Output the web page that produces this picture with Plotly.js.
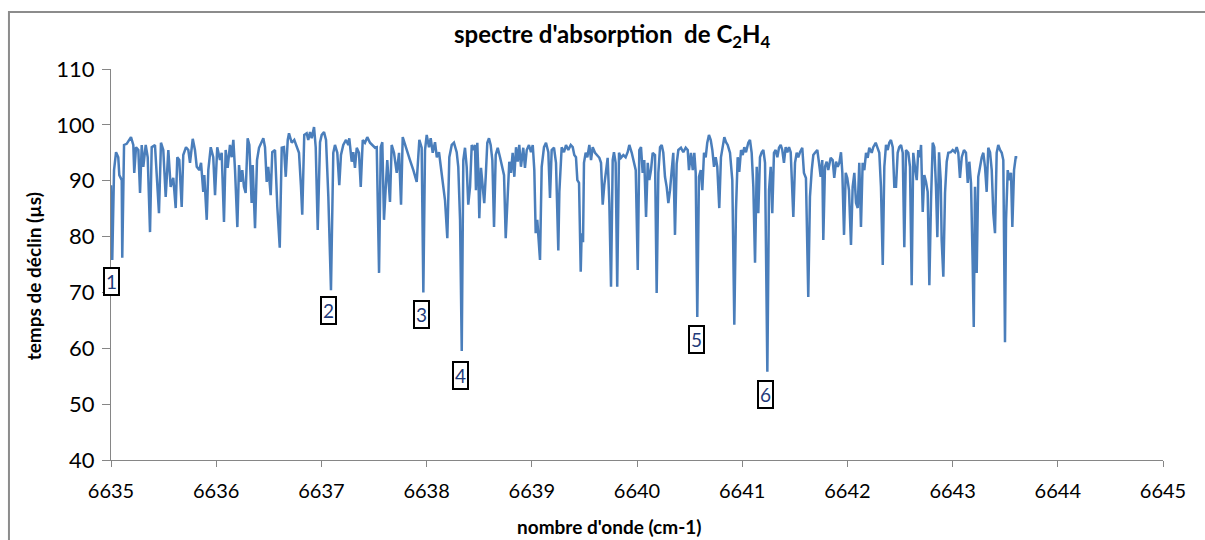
<!DOCTYPE html>
<html>
<head>
<meta charset="utf-8">
<script src="https://cdn.plot.ly/plotly-3.0.1.min.js"></script>
<style>
html,body{margin:0;padding:0;background:#fff;}
#chart{width:1205px;height:540px;}
</style>
</head>
<body>
<div id="chart"></div>
<script>
// wavenumber (cm-1)
const wavenumber = [
6635.000,6635.012,6635.029,6635.048,6635.069,6635.079,6635.102,6635.107,6635.124,6635.149,
6635.190,6635.212,6635.221,6635.238,6635.260,6635.276,6635.292,6635.307,6635.330,6635.349,
6635.371,6635.387,6635.418,6635.434,6635.456,6635.475,6635.497,6635.520,6635.545,6635.567,
6635.592,6635.615,6635.630,6635.649,6635.672,6635.687,6635.713,6635.735,6635.751,6635.777,
6635.798,6635.815,6635.839,6635.856,6635.877,6635.887,6635.910,6635.925,6635.948,6635.972,
6635.989,6636.010,
6636.036,6636.052,6636.074,6636.090,6636.109,6636.131,6636.147,6636.163,6636.179,6636.201,
6636.217,6636.233,6636.248,6636.264,6636.280,6636.299,6636.315,6636.337,6636.347,6636.369,
6636.388,6636.407,6636.426,6636.448,6636.464,6636.480,6636.495,6636.518,6636.533,6636.559,
6636.581,6636.604,6636.623,6636.644,6636.661,6636.680,6636.692,6636.718,6636.742,6636.765,
6636.787,6636.806,6636.818,6636.837,6636.860,6636.875,6636.892,6636.908,6636.930,6636.946,
6636.965,6636.987,6637.003,6637.025,6637.044,6637.066,6637.091,6637.113,
6637.129,6637.151,6637.170,6637.186,6637.208,6637.234,6637.256,6637.265,6637.288,6637.303,
6637.319,6637.336,6637.357,6637.374,6637.393,6637.414,6637.436,6637.462,6637.488,6637.510,
6637.526,6637.548,6637.564,6637.579,6637.595,6637.611,6637.626,6637.652,6637.668,6637.690,
6637.716,6637.738,6637.757,6637.773,6637.795,6637.817,6637.842,6637.874,6637.906,6637.931,
6637.953,6637.969,6637.985,6638.001,6638.023,6638.039,6638.058,6638.080,6638.097,6638.118,
6638.137,6638.159,6638.175,6638.197,6638.216,
6638.239,6638.260,6638.286,6638.301,6638.318,6638.334,6638.349,6638.365,6638.381,6638.396,
6638.413,6638.429,6638.444,6638.460,6638.469,6638.482,6638.491,6638.501,6638.517,6638.533,
6638.548,6638.562,6638.577,6638.593,6638.609,6638.625,6638.641,6638.657,6638.676,6638.698,
6638.720,6638.736,6638.752,6638.771,6638.786,6638.802,6638.818,6638.834,6638.850,6638.866,
6638.881,6638.897,6638.919,6638.935,6638.952,6638.973,6638.992,6639.009,6639.024,6639.037,
6639.052,6639.078,6639.094,6639.116,6639.135,6639.157,6639.173,6639.189,6639.211,6639.230,
6639.252,6639.262,
6639.284,6639.306,6639.325,6639.347,6639.370,6639.389,6639.404,6639.420,6639.433,6639.449,
6639.465,6639.474,6639.487,6639.496,6639.512,6639.528,6639.547,6639.563,6639.579,6639.601,
6639.623,6639.642,6639.658,6639.674,6639.689,6639.705,6639.721,6639.737,6639.753,6639.769,
6639.781,6639.797,6639.812,6639.829,6639.848,6639.870,6639.892,6639.911,6639.927,6639.950,
6639.971,6639.988,6640.007,6640.022,6640.038,6640.054,6640.069,6640.086,6640.102,6640.117,
6640.133,6640.149,6640.171,6640.187,6640.203,6640.219,6640.235,6640.250,6640.266,6640.282,
6640.298,6640.314,6640.330,6640.345,6640.361,6640.377,6640.393,
6640.418,6640.440,6640.463,6640.482,6640.494,6640.513,6640.530,6640.545,6640.558,6640.573,
6640.589,6640.606,6640.621,6640.637,6640.653,6640.668,6640.684,6640.701,6640.716,6640.732,
6640.748,6640.763,6640.782,6640.798,6640.815,6640.830,6640.846,6640.862,6640.884,6640.906,
6640.925,6640.941,6640.957,6640.972,6640.989,6641.005,6641.020,6641.036,6641.058,6641.074,
6641.090,6641.106,6641.122,6641.138,6641.153,6641.169,6641.185,6641.201,6641.217,6641.239,
6641.255,6641.271,6641.286,6641.302,6641.318,6641.334,6641.350,6641.366,6641.381,6641.397,
6641.413,6641.429,6641.445,6641.461,
6641.486,6641.502,6641.518,6641.533,6641.549,6641.571,6641.587,6641.606,6641.628,6641.644,
6641.661,6641.676,6641.692,6641.714,6641.730,6641.746,6641.761,6641.771,6641.787,6641.803,
6641.818,6641.841,6641.860,6641.875,6641.892,6641.908,6641.923,6641.939,6641.952,6641.968,
6641.984,6641.999,6642.015,6642.034,6642.050,6642.066,6642.082,6642.098,6642.113,6642.129,
6642.145,6642.161,6642.177,6642.193,6642.208,6642.231,6642.246,6642.269,6642.284,6642.303,
6642.319,6642.336,6642.351,6642.367,6642.383,6642.398,6642.414,6642.431,6642.446,6642.462,
6642.478,6642.493,6642.510,6642.526,6642.541,6642.557,6642.579,
6642.595,6642.611,6642.626,6642.643,6642.659,6642.674,6642.690,6642.700,6642.716,6642.731,
6642.747,6642.763,6642.779,6642.795,6642.811,6642.826,6642.842,6642.855,6642.871,6642.887,
6642.896,6642.912,6642.928,6642.944,6642.959,6642.982,6643.001,6643.023,6643.039,6643.054,
6643.070,6643.087,6643.108,6643.127,6643.144,6643.159,6643.175,6643.191,6643.201,6643.213,
6643.229,6643.244,6643.261,6643.277,6643.292,6643.308,6643.324,6643.339,6643.356,6643.372,
6643.387,6643.403,6643.419,6643.434,6643.451,6643.467,6643.482,6643.498,6643.508,6643.524,
6643.539,6643.555,6643.568,6643.584,6643.600,6643.615
];

// decay time (µs)
const decayTime = [
89.2,75.8,91.9,95.1,94.2,91.0,90.1,76.2,96.4,96.6,
97.8,96.4,91.4,96.0,95.5,87.8,96.4,92.5,96.4,94.2,
80.8,96.0,96.4,91.9,84.2,96.8,95.5,87.1,95.5,88.9,
90.5,85.1,94.2,93.7,85.3,94.6,96.0,95.5,93.2,97.5,
95.5,92.5,91.9,93.2,88.0,91.0,83.0,91.9,96.0,94.2,
87.4,96.0,
93.7,95.0,82.6,95.5,92.3,96.4,94.2,97.3,91.9,81.7,
92.8,89.8,91.9,88.9,87.8,97.6,96.4,86.0,92.8,81.5,
93.7,95.9,96.8,97.6,96.0,89.8,92.5,87.4,95.1,95.5,
85.3,78.0,95.9,96.0,90.7,97.3,98.5,96.8,97.3,96.0,
95.0,88.9,83.9,98.2,98.5,97.3,98.7,97.6,99.6,96.0,
81.2,96.9,98.2,98.7,97.3,87.1,70.4,95.0,
96.4,95.0,89.2,94.6,96.4,97.3,96.4,97.6,93.4,95.1,
92.3,95.9,95.0,88.9,97.3,96.8,97.8,96.8,96.4,95.9,
96.0,73.5,96.0,96.9,83.0,90.1,93.7,86.2,96.4,95.0,
91.4,95.0,85.7,97.8,96.4,95.0,93.7,91.9,89.8,97.3,
95.9,70.0,95.5,98.2,96.0,97.6,95.0,96.9,94.2,95.1,
92.3,88.9,86.5,79.7,94.2,
96.4,96.8,95.1,92.5,83.0,59.5,93.7,95.9,92.5,85.7,
88.9,96.4,95.5,96.4,88.3,96.8,91.9,83.3,92.3,89.6,
86.0,90.7,96.8,97.6,96.4,93.7,81.7,94.6,95.9,94.2,
92.5,91.0,79.7,87.1,93.4,91.4,95.0,90.7,96.0,93.4,
96.4,92.5,95.9,92.3,95.5,96.4,95.1,96.4,91.9,80.6,
83.0,75.8,92.5,96.0,96.8,95.1,86.9,95.5,95.9,93.2,
77.5,88.0,
96.0,95.1,96.4,95.5,96.4,96.0,94.6,94.2,90.1,89.6,
73.7,80.6,79.0,93.2,95.0,94.2,96.4,93.7,96.0,95.0,
94.6,94.1,93.2,85.7,89.2,92.3,94.1,86.0,71.0,93.7,
95.1,93.2,71.0,95.0,94.1,94.6,94.2,95.1,96.4,95.0,
93.2,91.9,74.0,95.5,96.0,91.4,93.7,83.5,93.2,90.1,
91.9,95.0,94.6,69.9,91.4,96.0,96.4,95.0,90.7,88.9,
86.0,88.3,91.9,95.0,80.3,93.0,95.5,
95.9,95.1,95.9,95.5,91.9,95.0,91.9,95.0,91.4,65.6,
90.7,91.9,88.3,95.0,94.2,96.8,98.2,97.3,95.5,92.5,
94.2,92.5,85.1,94.2,96.0,97.8,96.9,96.4,95.0,90.1,
64.2,84.8,94.2,91.6,95.5,94.6,96.0,95.1,96.8,97.3,
95.0,88.9,75.3,92.5,84.2,94.2,95.1,95.5,93.2,55.8,
88.3,92.5,84.2,95.0,95.5,94.2,95.9,96.4,95.5,93.2,
96.0,95.1,96.0,95.1,
83.5,93.2,95.0,94.2,95.1,95.9,91.4,90.5,69.2,87.1,
91.9,94.6,95.0,95.5,93.2,90.7,93.7,79.4,92.5,93.4,
91.9,94.1,93.7,90.5,93.4,92.5,93.2,95.1,91.4,80.3,
91.4,90.5,88.3,78.5,88.9,91.4,86.0,85.1,93.2,81.7,
93.2,91.9,95.0,94.1,95.9,95.0,96.0,96.8,96.0,95.0,
88.9,74.9,92.5,96.4,95.5,96.8,97.3,96.0,88.9,88.9,
95.0,96.0,96.4,95.0,78.1,95.5,95.0,
92.5,71.3,95.0,92.3,90.1,95.5,94.2,96.4,84.4,91.0,
89.8,88.0,71.3,86.5,96.8,96.0,88.9,79.9,95.1,90.1,
79.4,72.8,87.8,93.4,95.0,95.1,95.5,95.1,96.0,95.0,
90.5,94.2,95.5,95.0,89.6,93.4,89.6,75.0,63.8,88.9,
73.5,90.7,92.5,94.2,95.0,92.5,88.0,95.9,95.1,91.9,
84.2,80.6,95.0,96.4,95.5,95.0,93.7,61.1,83.0,91.9,
90.1,91.4,81.7,91.9,94.2,94.2
];

// numbered line labels
const peakLabels = ["1","2","3","4","5","6"];
const peakLabelX = [6635.0, 6637.072, 6637.956, 6638.318, 6640.561, 6641.226];
const peakLabelY = [72.0, 66.7, 66.0, 55.2, 61.6, 51.8];

const xTickVals = [6635,6636,6637,6638,6639,6640,6641,6642,6643,6644,6645];
const yTickVals = [40,50,60,70,80,90,100,110];

const titleText = "<b>spectre d'absorption  de C<sub>2</sub>H<sub>4</sub></b>";
const xTitleText = "<b>nombre d'onde (cm-1)</b>";
const yTitleText = "<b>temps de déclin (µs)</b>";

const FONT = "Lato, 'Open Sans', sans-serif";
const AXIS_GREY = "#868686";

const trace = {
  x: wavenumber,
  y: decayTime,
  type: "scatter",
  mode: "lines",
  line: {color: "#4A7EBB", width: 2.5},
  hoverinfo: "x+y",
  showlegend: false
};

const annotations = peakLabels.map((t, i) => ({
  x: peakLabelX[i], y: peakLabelY[i], xref: "x", yref: "y",
  text: t, showarrow: false,
  font: {family: FONT, size: 19, color: "#1F3B7A"},
  bordercolor: "#000000", borderwidth: 2, borderpad: 1,
  bgcolor: "#ffffff", xanchor: "center", yanchor: "middle"
}));

annotations.push({
  x: 0.474, y: -0.171, xref: "paper", yref: "paper",
  yanchor: "middle", xanchor: "center",
  text: xTitleText, showarrow: false,
  font: {family: FONT, size: 19, color: "#000000"}
});
annotations.push({
  x: -0.0741, y: 0.47, xref: "paper", yref: "paper",
  yanchor: "middle", xanchor: "center", textangle: -90,
  text: yTitleText, showarrow: false,
  font: {family: FONT, size: 19, color: "#000000"}
});

const layout = {
  width: 1205, height: 540,
  margin: {l: 111, r: 42, t: 69, b: 80},
  paper_bgcolor: "#ffffff",
  plot_bgcolor: "#ffffff",
  font: {family: FONT, color: "#000000"},
  title: {
    text: titleText,
    font: {family: FONT, size: 24, color: "#000000"},
    xref: "container", x: 0.508, xanchor: "center",
    yref: "container", y: 0.936, yanchor: "middle"
  },
  xaxis: {
    range: [6635, 6645],
    tickvals: xTickVals,
    ticktext: xTickVals.map(String),
    showgrid: false, zeroline: false,
    showline: true, linecolor: AXIS_GREY, linewidth: 1,
    ticks: "outside", ticklen: 6, tickcolor: AXIS_GREY, tickwidth: 1,
    tickfont: {family: FONT, size: 20, color: "#000000"},
    ticklabelstandoff: 7,
    automargin: false
  },
  yaxis: {
    range: [40, 110],
    tickvals: yTickVals,
    showgrid: false, zeroline: false,
    showline: true, linecolor: AXIS_GREY, linewidth: 1,
    ticks: "outside", ticklen: 8, tickcolor: AXIS_GREY, tickwidth: 1,
    tickfont: {family: FONT, size: 22, color: "#000000"},
    ticklabelstandoff: 3,
    automargin: false
  },
  shapes: [{
    type: "rect", xref: "paper", yref: "paper",
    x0: -0.097, x1: 1.07, y0: -0.25, y1: 1.146,
    line: {color: "#8C8C8C", width: 2}, fillcolor: "rgba(0,0,0,0)", layer: "below"
  }],
  annotations: annotations
};

Plotly.newPlot("chart", [trace], layout, {displayModeBar: false, staticPlot: true});
</script>
</body>
</html>
